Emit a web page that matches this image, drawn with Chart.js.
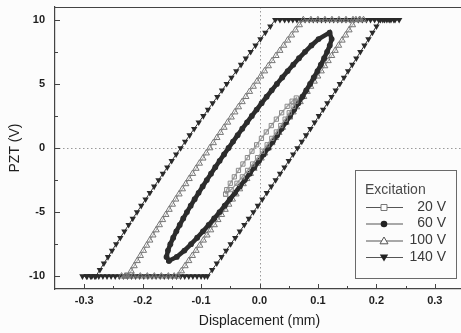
<!DOCTYPE html>
<html>
<head>
<meta charset="utf-8">
<script src="https://cdn.jsdelivr.net/npm/chart.js@4.4.1/dist/chart.umd.min.js"></script>
<style>
  html, body { margin: 0; padding: 0; background: #fcfcfc; overflow: hidden; }
  canvas { display: block; }
</style>
</head>
<body>
<canvas id="loops" width="470" height="333"></canvas>
<script>
// axis ticks
const xTicks = [-0.3, -0.2, -0.1, 0, 0.1, 0.2, 0.3]
const xMinor = [-0.25, -0.15, -0.05, 0.05, 0.15, 0.25]
const yTicks = [-10, -5, 0, 5, 10]
const yMinor = [-7.5, -2.5, 2.5, 7.5]

const seriesLabels = ['20 V', '60 V', '100 V', '140 V']

// 20 V loop
const x20 = [-0.058, -0.0485, -0.0386, -0.0293, -0.0204, -0.0118, -0.0033, 0.0049, 0.0131, 0.0211, 0.0288, 0.0364, 0.0439, 0.0509, 0.0576, 0.0622, 0.063,
  0.0558, 0.0474, 0.0379, 0.0289, 0.0202, 0.0116, 0.0033, -0.0049, -0.0129, -0.0207, -0.0284, -0.0360, -0.0431, -0.0500, -0.0561, -0.058]
const y20 = [-3.6, -3.25, -2.75, -2.25, -1.75, -1.25, -0.75, -0.25, 0.25, 0.75, 1.25, 1.75, 2.25, 2.75, 3.25, 3.65, 3.9,
  3.65, 3.25, 2.75, 2.25, 1.75, 1.25, 0.75, 0.25, -0.25, -0.75, -1.25, -1.75, -2.25, -2.75, -3.25, -3.6]

// 60 V loop
const x60 = [-0.155, -0.1416, -0.1285, -0.1172, -0.1067, -0.0967, -0.0870, -0.0776, -0.0684, -0.0595, -0.0507, -0.0420, -0.0335, -0.0252, -0.0169, -0.0088, -0.0008, 0.0071, 0.0150,
  0.0227, 0.0302, 0.0377, 0.0451, 0.0523, 0.0594, 0.0664, 0.0734, 0.0800, 0.0866, 0.0929, 0.0992, 0.1050, 0.1106, 0.1157, 0.1203, 0.1235, 0.12,
  0.1011, 0.0889, 0.0779, 0.0676, 0.0578, 0.0482, 0.0389, 0.0298, 0.0209, 0.0122, 0.0036, -0.0048, -0.0131, -0.0213, -0.0295, -0.0374, -0.0453, -0.0530,
  -0.0607, -0.0682, -0.0757, -0.0830, -0.0902, -0.0973, -0.1042, -0.1110, -0.1177, -0.1242, -0.1305, -0.1365, -0.1423, -0.1477, -0.1526, -0.1567, -0.1591, -0.155]
const y60 = [-8.8, -8.5, -8, -7.5, -7, -6.5, -6, -5.5, -5, -4.5, -4, -3.5, -3, -2.5, -2, -1.5, -1, -0.5, 0,
  0.5, 1, 1.5, 2, 2.5, 3, 3.5, 4, 4.5, 5, 5.5, 6, 6.5, 7, 7.5, 8, 8.5, 9,
  8.5, 8, 7.5, 7, 6.5, 6, 5.5, 5, 4.5, 4, 3.5, 3, 2.5, 2, 1.5, 1, 0.5, 0,
  -0.5, -1, -1.5, -2, -2.5, -3, -3.5, -4, -4.5, -5, -5.5, -6, -6.5, -7, -7.5, -8, -8.5, -8.8]

// 100 V loop: rising edge, top plateau, falling edge, bottom plateau
const x100 = [-0.140, -0.1337, -0.1274, -0.1211, -0.1149, -0.1086, -0.1023, -0.0961, -0.0899, -0.0836, -0.0774, -0.0712, -0.0650, -0.0588, -0.0526, -0.0464, -0.0402,
  -0.0341, -0.0279, -0.0217, -0.0156, -0.0095, -0.0033, 0.0028, 0.0089, 0.015, 0.0211, 0.0272, 0.0333, 0.0393, 0.0454, 0.0515, 0.0575, 0.0635,
  0.0696, 0.0756, 0.0816, 0.0876, 0.0936, 0.0996, 0.1056, 0.1116, 0.1175, 0.1235, 0.1295, 0.1354, 0.1413, 0.1473, 0.1532, 0.1591, 0.165,
  0.171, 0.178, 0.172, 0.160, 0.148, 0.136, 0.124, 0.112, 0.100, 0.088,
  0.075, 0.0682, 0.0615, 0.0547, 0.0481, 0.0414, 0.0348, 0.0282, 0.0216, 0.0151, 0.0086, 0.0021, -0.0043, -0.0107, -0.0171, -0.0234, -0.0297,
  -0.0360, -0.0422, -0.0484, -0.0546, -0.0607, -0.0669, -0.0729, -0.0790, -0.085, -0.0910, -0.0969, -0.1029, -0.1087, -0.1146, -0.1204, -0.1262,
  -0.1320, -0.1377, -0.1434, -0.1491, -0.1547, -0.1603, -0.1659, -0.1714, -0.1769, -0.1824, -0.1878, -0.1932, -0.1986, -0.2039, -0.2093, -0.2145, -0.2198, -0.225,
  -0.230, -0.236, -0.228, -0.216, -0.204, -0.192, -0.180, -0.168, -0.156, -0.146]
const y100 = [-10, -9.6, -9.2, -8.8, -8.4, -8, -7.6, -7.2, -6.8, -6.4, -6, -5.6, -5.2, -4.8, -4.4, -4, -3.6,
  -3.2, -2.8, -2.4, -2, -1.6, -1.2, -0.8, -0.4, 0, 0.4, 0.8, 1.2, 1.6, 2, 2.4, 2.8, 3.2,
  3.6, 4, 4.4, 4.8, 5.2, 5.6, 6, 6.4, 6.8, 7.2, 7.6, 8, 8.4, 8.8, 9.2, 9.6, 10,
  10, 10, 10, 10, 10, 10, 10, 10, 10, 10,
  10, 9.6, 9.2, 8.8, 8.4, 8, 7.6, 7.2, 6.8, 6.4, 6, 5.6, 5.2, 4.8, 4.4, 4, 3.6,
  3.2, 2.8, 2.4, 2, 1.6, 1.2, 0.8, 0.4, 0, -0.4, -0.8, -1.2, -1.6, -2, -2.4, -2.8,
  -3.2, -3.6, -4, -4.4, -4.8, -5.2, -5.6, -6, -6.4, -6.8, -7.2, -7.6, -8, -8.4, -8.8, -9.2, -9.6, -10,
  -10, -10, -10, -10, -10, -10, -10, -10, -10, -10]

// 140 V loop: rising edge, top plateau (clipped), falling edge, bottom plateau
const x140 = [-0.089, -0.0810, -0.0731, -0.0651, -0.0572, -0.0494, -0.0415, -0.0337, -0.0260, -0.0182, -0.0105, -0.0028, 0.0048, 0.0125,
  0.0201, 0.0276, 0.0352, 0.0427, 0.0501, 0.0576, 0.065, 0.0724, 0.0797, 0.0871, 0.0944, 0.1016, 0.1089, 0.1161,
  0.1232, 0.1304, 0.1375, 0.1446, 0.1516, 0.1587, 0.1657, 0.1726, 0.1796, 0.1865, 0.1933, 0.2002, 0.207,
  0.214, 0.222, 0.230, 0.239, 0.232, 0.225, 0.218, 0.211, 0.204, 0.197, 0.190, 0.183, 0.176, 0.169, 0.162, 0.155, 0.148,
  0.141, 0.134, 0.127, 0.120, 0.113, 0.106, 0.099, 0.092, 0.085, 0.078, 0.071, 0.064, 0.057, 0.050, 0.043, 0.035,
  0.027, 0.0185, 0.0100, 0.0016, -0.0068, -0.0151, -0.0234, -0.0316, -0.0398, -0.0480, -0.0561, -0.0642, -0.0722, -0.0802,
  -0.0882, -0.0961, -0.1040, -0.1118, -0.1196, -0.1273, -0.135, -0.1427, -0.1503, -0.1578, -0.1654, -0.1728, -0.1803, -0.1877,
  -0.1950, -0.2024, -0.2096, -0.2169, -0.2240, -0.2312, -0.2383, -0.2454, -0.2524, -0.2593, -0.2663, -0.2732, -0.280,
  -0.287, -0.295, -0.303, -0.296, -0.289, -0.282, -0.275, -0.268, -0.261, -0.254, -0.247, -0.240, -0.233, -0.226, -0.219, -0.212,
  -0.205, -0.198, -0.191, -0.184, -0.177, -0.170, -0.163, -0.156, -0.149, -0.142, -0.135, -0.128, -0.121, -0.114, -0.107, -0.100, -0.094]
const y140 = [-10, -9.5, -9, -8.5, -8, -7.5, -7, -6.5, -6, -5.5, -5, -4.5, -4, -3.5,
  -3, -2.5, -2, -1.5, -1, -0.5, 0, 0.5, 1, 1.5, 2, 2.5, 3, 3.5,
  4, 4.5, 5, 5.5, 6, 6.5, 7, 7.5, 8, 8.5, 9, 9.5, 10,
  10, 10, 10, 10, 10, 10, 10, 10, 10, 10, 10, 10, 10, 10, 10, 10, 10,
  10, 10, 10, 10, 10, 10, 10, 10, 10, 10, 10, 10, 10, 10, 10, 10,
  10, 9.5, 9, 8.5, 8, 7.5, 7, 6.5, 6, 5.5, 5, 4.5, 4, 3.5,
  3, 2.5, 2, 1.5, 1, 0.5, 0, -0.5, -1, -1.5, -2, -2.5, -3, -3.5,
  -4, -4.5, -5, -5.5, -6, -6.5, -7, -7.5, -8, -8.5, -9, -9.5, -10,
  -10, -10, -10, -10, -10, -10, -10, -10, -10, -10, -10, -10, -10, -10, -10, -10,
  -10, -10, -10, -10, -10, -10, -10, -10, -10, -10, -10, -10, -10, -10, -10, -10, -10]

const BG = '#fcfcfc'
const INK = '#1e1e1e'
const FONT = '"Liberation Sans", Arial, sans-serif'
Chart.defaults.font.family = FONT

function pts (xs, ys) {
  return xs.map((x, i) => ({ x: x, y: ys[i] }))
}

// dotted zero lines, inward ticks, top frame line and the boxed legend
const frameDecor = {
  id: 'frameDecor',
  beforeDatasetsDraw (chart) {
    const { ctx, chartArea: a, scales: { x, y } } = chart
    const x0 = Math.round(x.getPixelForValue(0)) + 0.5
    const y0 = Math.round(y.getPixelForValue(0)) + 0.5
    ctx.save()
    ctx.strokeStyle = '#9a9a9a'
    ctx.lineWidth = 1
    ctx.setLineDash([1.5, 2.5])
    ctx.beginPath()
    ctx.moveTo(x0, a.top)
    ctx.lineTo(x0, a.bottom)
    ctx.moveTo(a.left, y0)
    ctx.lineTo(a.right, y0)
    ctx.stroke()
    ctx.restore()
  },
  afterDraw (chart) {
    const { ctx, chartArea: a, scales: { x, y } } = chart
    ctx.save()
    ctx.strokeStyle = '#444'
    ctx.lineWidth = 1
    ctx.beginPath()
    ctx.moveTo(a.left, a.top + 0.5)
    ctx.lineTo(a.right, a.top + 0.5)
    xTicks.concat(xMinor).forEach(v => {
      const px = Math.round(x.getPixelForValue(v)) + 0.5
      const len = xTicks.includes(v) ? 5 : 3
      ctx.moveTo(px, a.bottom)
      ctx.lineTo(px, a.bottom - len)
    })
    yTicks.concat(yMinor).forEach(v => {
      const py = Math.round(y.getPixelForValue(v)) + 0.5
      const len = yTicks.includes(v) ? 5 : 3
      ctx.moveTo(a.left, py)
      ctx.lineTo(a.left + len, py)
    })
    ctx.stroke()

    // legend box
    const lx = 355.5
    const ly = 170.5
    ctx.fillStyle = BG
    ctx.fillRect(lx, ly, 101, 108)
    ctx.strokeStyle = '#6a6a6a'
    ctx.strokeRect(lx, ly, 101, 108)
    ctx.font = '14px ' + FONT
    ctx.fillStyle = '#4a4a4a'
    ctx.textBaseline = 'middle'
    ctx.textAlign = 'left'
    ctx.fillText('Excitation', 365, 190)

    const rows = [207, 223.5, 240.5, 257]
    rows.forEach((ry, i) => {
      ctx.strokeStyle = '#555'
      ctx.lineWidth = 1
      ctx.beginPath()
      ctx.moveTo(366, ry + 0.5)
      ctx.lineTo(403, ry + 0.5)
      ctx.stroke()
      drawMark(ctx, i, 384, ry + 0.5)
      ctx.fillStyle = '#3a3a3a'
      ctx.textAlign = 'right'
      ctx.fillText(seriesLabels[i], 446, ry)
    })
    ctx.restore()
  }
}

function drawMark (ctx, i, cx, cy) {
  ctx.lineWidth = 1
  ctx.beginPath()
  if (i === 0) {
    ctx.rect(cx - 3, cy - 3, 6, 6)
    ctx.fillStyle = BG
    ctx.fill()
    ctx.strokeStyle = '#777'
    ctx.stroke()
  } else if (i === 1) {
    ctx.arc(cx, cy, 3.3, 0, Math.PI * 2)
    ctx.fillStyle = '#222'
    ctx.fill()
  } else if (i === 2) {
    ctx.moveTo(cx, cy - 4)
    ctx.lineTo(cx + 4, cy + 2.8)
    ctx.lineTo(cx - 4, cy + 2.8)
    ctx.closePath()
    ctx.fillStyle = BG
    ctx.fill()
    ctx.strokeStyle = '#555'
    ctx.stroke()
  } else {
    ctx.moveTo(cx, cy + 4)
    ctx.lineTo(cx + 4.2, cy - 3)
    ctx.lineTo(cx - 4.2, cy - 3)
    ctx.closePath()
    ctx.fillStyle = '#222'
    ctx.fill()
  }
}

const tickFont = { size: 11, weight: 'bold' }

new Chart(document.getElementById('loops'), {
  type: 'scatter',
  data: {
    datasets: [
      {
        label: seriesLabels[0],
        data: pts(x20, y20),
        showLine: true,
        borderColor: '#a4a4a4',
        borderWidth: 1.5,
        pointStyle: 'rect',
        pointRadius: 3,
        pointBorderWidth: 1,
        pointBorderColor: '#8a8a8a',
        pointBackgroundColor: 'rgba(0,0,0,0)'
      },
      {
        label: seriesLabels[1],
        data: pts(x60, y60),
        showLine: true,
        borderColor: '#2c2c2c',
        borderWidth: 4.5,
        pointStyle: 'circle',
        pointRadius: 2.9,
        pointBorderWidth: 0,
        pointBackgroundColor: '#2c2c2c'
      },
      {
        label: seriesLabels[2],
        data: pts(x100, y100),
        showLine: true,
        borderColor: '#8a8a8a',
        borderWidth: 0.8,
        pointStyle: 'triangle',
        pointRadius: 3.6,
        pointBorderWidth: 1,
        pointBorderColor: '#767676',
        pointBackgroundColor: 'rgba(0,0,0,0)'
      },
      {
        label: seriesLabels[3],
        data: pts(x140, y140),
        showLine: true,
        borderColor: '#333',
        borderWidth: 1,
        pointStyle: 'triangle',
        pointRotation: 180,
        pointRadius: 3.7,
        pointBorderWidth: 0,
        pointBackgroundColor: '#2a2a2a'
      }
    ]
  },
  options: {
    responsive: false,
    animation: false,
    devicePixelRatio: 1,
    events: [],
    layout: { padding: { left: 0, top: 7, right: 6, bottom: 0 } },
    plugins: {
      legend: { display: false },
      tooltip: { enabled: false }
    },
    scales: {
      x: {
        type: 'linear',
        min: -0.35,
        max: 0.35,
        afterBuildTicks: s => { s.ticks = xTicks.map(v => ({ value: v })) },
        afterFit: s => {
          s.height = 44
          s.paddingLeft = 0
          s.paddingRight = 0
        },
        ticks: {
          callback: v => v.toFixed(1),
          font: tickFont,
          color: INK,
          padding: 5,
          maxRotation: 0,
          autoSkip: false
        },
        grid: { display: false, drawTicks: false },
        border: { display: true, color: '#444', width: 1.2 },
        title: {
          display: true,
          text: 'Displacement (mm)',
          font: { size: 14 },
          color: INK,
          padding: { top: 4, bottom: 3 }
        }
      },
      y: {
        type: 'linear',
        min: -11,
        max: 11,
        afterBuildTicks: s => { s.ticks = yTicks.map(v => ({ value: v })) },
        afterFit: s => {
          s.width = 55
          s.paddingTop = 0
          s.paddingBottom = 0
        },
        ticks: {
          callback: v => String(v),
          font: tickFont,
          color: INK,
          padding: 10
        },
        grid: { display: false, drawTicks: false },
        border: { display: true, color: '#444', width: 1.2 },
        title: {
          display: true,
          text: 'PZT (V)',
          font: { size: 14 },
          color: INK,
          padding: { top: 7, bottom: 0 }
        }
      }
    }
  },
  plugins: [frameDecor]
})
</script>
</body>
</html>
